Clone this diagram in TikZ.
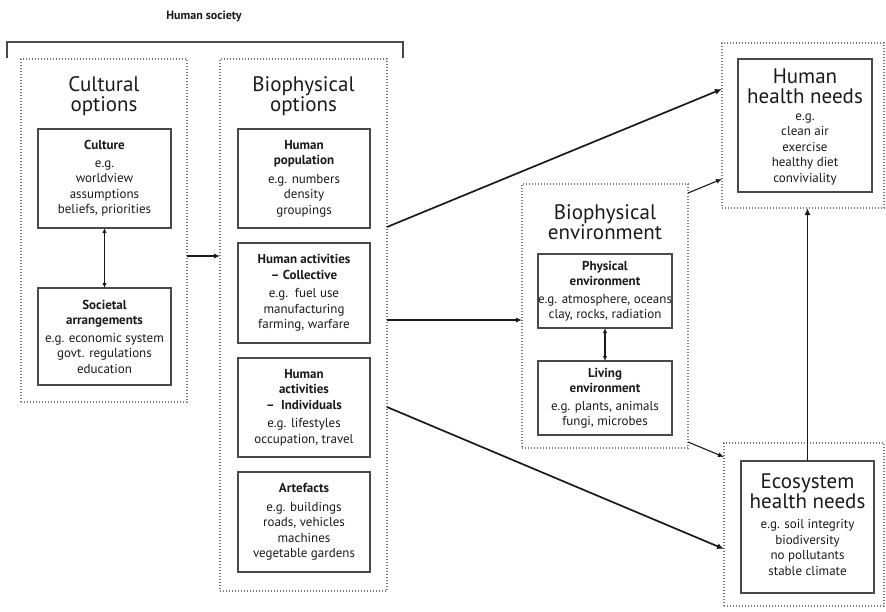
\documentclass[tikz,border=0pt]{standalone}
\usepackage{fontspec}
\setmainfont{PT Sans}
\usetikzlibrary{arrows.meta}
\newcommand\bodyfnt{\fontsize{13}{15.5}\selectfont}
\newcommand\titlefnt{\fontsize{21}{19.5}\selectfont}
\definecolor{ink}{HTML}{1A1A1A}
\definecolor{edge}{HTML}{4A4A4A}
\definecolor{dots}{HTML}{7A7A7A}
\begin{document}
\begin{tikzpicture}[x=1pt,y=-1pt,
  every node/.style={inner sep=0pt, outer sep=0pt, text=ink},
  group/.style={draw=dots, line width=1.1pt, dash pattern=on 1.1pt off 1.9pt},
  item/.style={draw=edge, line width=1.3pt, align=center, font=\bodyfnt},
  title/.style={align=center, font=\titlefnt, anchor=base},
  body/.style={align=center, font=\bodyfnt, anchor=base},
  arr/.style={draw=ink, line width=1.1pt, -{Latex[length=6pt,width=5pt]}},
  link/.style={draw=ink, line width=1.7pt, -{Latex[length=7pt,width=6pt]}},
  both/.style={draw=ink, line width=1.3pt, {Latex[length=5pt,width=4.5pt]}-{Latex[length=5pt,width=4.5pt]}}
]
\useasboundingbox (0,0) rectangle (886,611);

% Human society bracket
\node[font=\fontsize{12}{14}\selectfont\bfseries] (hs) at (204,16) {Human society};
\coordinate (bl) at (7,58);
\coordinate (br) at (403,58);
\draw[draw=edge, line width=1.3pt] (bl) -- (bl |- 0,42) -- (br |- 0,42) -- (br);

% Cultural options (the base anchor sits on the last line)
\node[group, minimum width=166pt, minimum height=343pt] (co) at (104,230.5) {};
\node[title] (cot) at (104,111) {Cultural\\options};
\node[item, minimum width=133pt, minimum height=99pt] (cu) at (104.5,178.5)
  {\textbf{Culture}\\[2pt]e.g.\\worldview\\assumptions\\beliefs, priorities};
\node[item, minimum width=133pt, minimum height=97pt] (sa) at (104.5,336.5)
  {\textbf{Societal}\\\textbf{arrangements}\\[2pt]e.g. economic system\\govt. regulations\\education};
\draw[both] (cu.south) -- (sa.north);

% Biophysical options
\node[group, minimum width=167pt, minimum height=532pt] (bo) at (303.5,325) {};
\node[title] (bot) at (303.5,111) {Biophysical\\options};
\node[item, minimum width=132pt, minimum height=99pt] (hp) at (304,178.5)
  {\textbf{Human}\\\textbf{population}\\[3pt]e.g. numbers\\density\\groupings};
\node[item, minimum width=132pt, minimum height=100pt] (hc) at (304,293)
  {\textbf{Human activities}\\\textbf{-- Collective}\\[3pt]e.g.\ \ fuel use\\manufacturing\\farming, warfare};
\node[item, minimum width=132pt, minimum height=99pt] (hi) at (304,407.5)
  {\textbf{Human}\\\textbf{activities}\\\textbf{--\ \ Individuals}\\[3pt]e.g. lifestyles\\occupation, travel};
\node[item, minimum width=132pt, minimum height=100pt] (ar) at (304,522)
  {\textbf{Artefacts}\\[3pt]e.g. buildings\\roads, vehicles\\machines\\vegetable gardens};

\draw[arr] (co.east |- 0,256) -- (bo.west |- 0,256);

% Biophysical environment
\node[group, minimum width=166pt, minimum height=264pt] (be) at (605,316) {};
\node[title] (bet) at (605,239) {Biophysical\\environment};
\node[item, minimum width=134pt, minimum height=74pt] (pe) at (605,291)
  {\textbf{Physical}\\\textbf{environment}\\[2pt]e.g. atmosphere, oceans\\clay, rocks, radiation};
\node[item, minimum width=134pt, minimum height=74pt] (le) at (605,398)
  {\textbf{Living}\\\textbf{environment}\\[2pt]e.g. plants, animals\\fungi, microbes};
\draw[both] (pe.south) -- (le.north);

% Human health needs
\node[group, minimum width=162pt, minimum height=165pt] (ho) at (803,125.5) {};
\node[item, minimum width=134pt, minimum height=133pt] (hh) at (805,125.5) {};
\node[title] (hht) at (805,103) {Human\\health needs};
\node[body] (hhb) at (805,182) {e.g.\\clean air\\exercise\\healthy diet\\conviviality};

% Ecosystem health needs
\node[group, minimum width=160pt, minimum height=163pt] (eo) at (804,524.5) {};
\node[item, minimum width=133pt, minimum height=132pt] (eh) at (807.5,527) {};
\node[title] (eht) at (807.5,508) {Ecosystem\\health needs};
\node[body] (ehb) at (807.5,575) {e.g. soil integrity\\biodiversity\\no pollutants\\stable climate};

% Connections between the groups
\draw[link] (bo.east |- 0,227) -- (ho.west |- 0,89);
\draw[arr]  (bo.east |- 0,320) -- (be.west |- 0,320);
\draw[link] (bo.east |- 0,407) -- (eo.west |- 0,549);
\draw[arr]  (be.east |- 0,193) -- (ho.west |- 0,179);
\draw[arr]  (be.east |- 0,442) -- (eo.west |- 0,457);
\draw[link] (eh.north) -- (ho.south -| eh.north);
\end{tikzpicture}
\end{document}
